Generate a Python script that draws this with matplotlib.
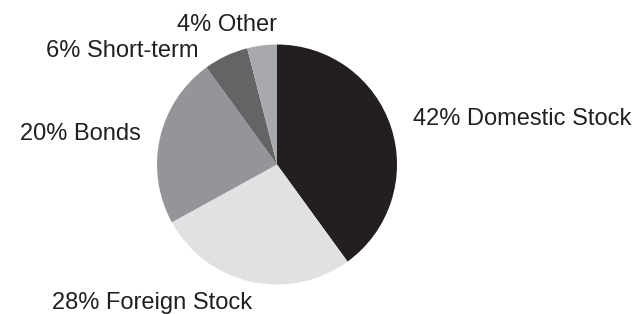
import matplotlib
matplotlib.use("Agg")
import matplotlib.pyplot as plt

plt.rcParams['font.family'] = ['Liberation Sans', 'DejaVu Sans']

# slice sizes as drawn (clockwise from 12 o'clock)
categories = ["Domestic Stock", "Foreign Stock", "Bonds", "Short-term", "Other"]
labels = ["42% Domestic Stock", "28% Foreign Stock", "20% Bonds", "6% Short-term", "4% Other"]
values = [40, 27, 23, 6, 4]
colors = ["#231f20", "#e0e1e2", "#939598", "#636466", "#a7a9ac"]

# label anchor points in pixels (x center, baseline y from top)
label_pos = [(522, 125), (152, 308.5), (80, 140), (122, 57), (227, 31)]

W, H = 637, 314
fig = plt.figure(figsize=(W / 100, H / 100), dpi=100)
ax = fig.add_axes([0, 0, 1, 1])

ax.pie(values, colors=colors, startangle=90, counterclock=False,
       center=(277, H - 164.5), radius=120,
       wedgeprops={"linewidth": 0})

for text, (px, py) in zip(labels, label_pos):
    ax.text(px, H - py, text, ha="center", va="baseline",
            fontsize=17, color="#231f20")

ax.set_xlim(0, W)
ax.set_ylim(0, H)
ax.set_aspect("equal")
ax.axis("off")

fig.savefig("out.png", dpi=100)
